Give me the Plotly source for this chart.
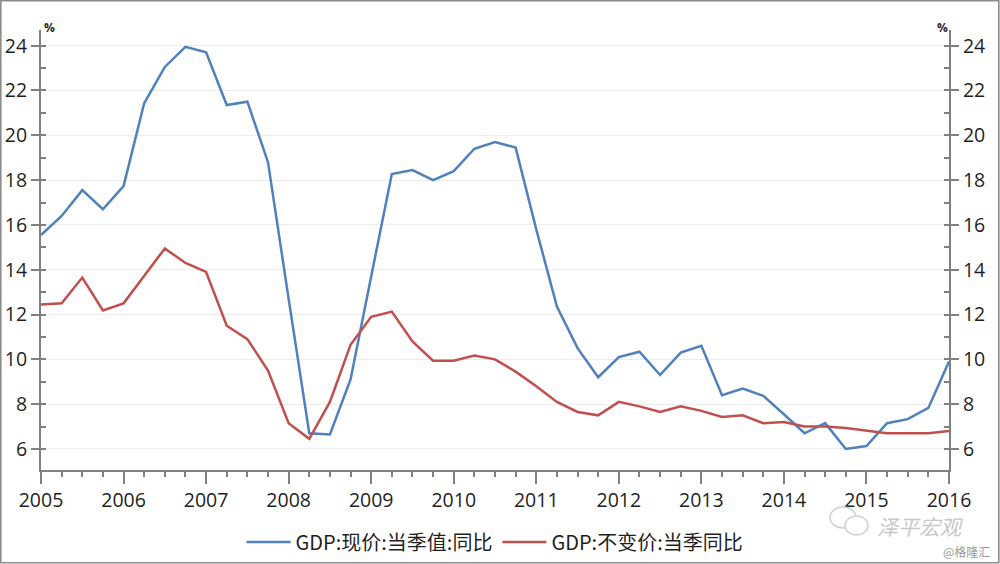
import plotly.graph_objects as go

# ---- data (quarterly points) ----
start_year = 2005
nominal_yoy = [15.55, 16.4, 17.55, 16.7, 17.73, 21.43, 23.05, 23.95, 23.7, 21.35,
               21.5, 18.8, 12.7, 6.7, 6.65, 9.1, 13.7, 18.27, 18.45, 18.0,
               18.4, 19.4, 19.7, 19.45, 15.8, 12.36, 10.5, 9.2, 10.1, 10.34,
               9.3, 10.3, 10.6, 8.4, 8.7, 8.37, 7.55, 6.7, 7.15, 6.0,
               6.13, 7.15, 7.33, 7.83, 9.9]
real_yoy = [12.45, 12.5, 13.65, 12.18, 12.5, 13.75, 14.95, 14.3, 13.9, 11.5,
            10.9, 9.5, 7.15, 6.45, 8.1, 10.65, 11.9, 12.13, 10.8, 9.94,
            9.94, 10.17, 10.0, 9.45, 8.8, 8.1, 7.65, 7.5, 8.1, 7.9,
            7.65, 7.9, 7.7, 7.43, 7.5, 7.15, 7.2, 7.0, 7.0, 6.93,
            6.8, 6.7, 6.7, 6.7, 6.8]
year_ticks = list(range(2005, 2017))
y_ticks = [6, 8, 10, 12, 14, 16, 18, 20, 22, 24]
series_names = ["GDP:现价:当季值:同比", "GDP:不变价:当季同比"]
series_colors = ["#4F81BD", "#C0504D"]

x_vals = [start_year + i * 0.25 for i in range(len(nominal_yoy))]

W, H = 1000, 564
ML, MR, MT, MB = 41, 51, 30, 94
PW, PH = W - ML - MR, H - MT - MB


def px(xp):
    return (xp - ML) / PW


def py(yp):
    return (H - MB - yp) / PH


AXIS_COLOR = "#808080"
TEXT_COLOR = "#1f1f1f"
FONT = "Open Sans, Noto Sans CJK SC, sans-serif"
Y_RANGE = [5.06, 24.7]

fig = go.Figure()
fig.add_trace(go.Scatter(x=x_vals, y=nominal_yoy, mode="lines", name=series_names[0],
                         line=dict(color=series_colors[0], width=2.5)))
fig.add_trace(go.Scatter(x=x_vals, y=real_yoy, mode="lines", name=series_names[1],
                         line=dict(color=series_colors[1], width=2.5)))
# invisible helper trace so the right axis renders
fig.add_trace(go.Scatter(x=x_vals, y=real_yoy, mode="lines", yaxis="y2", showlegend=False,
                         hoverinfo="skip", line=dict(color="rgba(0,0,0,0)", width=0)))

axis_common = dict(
    showline=True, linecolor=AXIS_COLOR, linewidth=2,
    ticks="outside", tickwidth=2, tickcolor=AXIS_COLOR,
    tickfont=dict(size=19.5, color=TEXT_COLOR, family=FONT),
    zeroline=False, automargin=False,
)

fig.update_layout(
    width=W, height=H,
    margin=dict(l=ML, r=MR, t=MT, b=MB, pad=0, autoexpand=False),
    paper_bgcolor="white", plot_bgcolor="white",
    font=dict(family=FONT, color=TEXT_COLOR),
    xaxis=dict(
        **axis_common,
        ticklen=12,
        range=[2005, 2016], tickmode="array", tickvals=year_ticks,
        ticktext=[str(y) for y in year_ticks],
        showgrid=False,
        minor=dict(dtick=0.25, tick0=2005, ticks="outside", ticklen=5,
                   tickwidth=2, tickcolor=AXIS_COLOR, showgrid=False),
    ),
    yaxis=dict(
        **axis_common,
        ticklen=8,
        range=Y_RANGE, tickmode="array", tickvals=y_ticks,
        showgrid=True, gridcolor="#ECECEC", gridwidth=1,
        minor=dict(dtick=1, tick0=5, ticks="inside", ticklen=5,
                   tickwidth=2, tickcolor=AXIS_COLOR, showgrid=False),
    ),
    yaxis2=dict(
        **axis_common,
        ticklen=8,
        overlaying="y", side="right", anchor="x",
        range=Y_RANGE, tickmode="array", tickvals=y_ticks,
        showgrid=False,
        minor=dict(dtick=1, tick0=5, ticks="inside", ticklen=5,
                   tickwidth=2, tickcolor=AXIS_COLOR, showgrid=False),
    ),
    legend=dict(
        orientation="h", x=px(495), xanchor="center", y=py(542), yanchor="middle",
        font=dict(size=20, color=TEXT_COLOR, family="Noto Sans CJK SC, sans-serif"),
        itemwidth=44, bgcolor="rgba(0,0,0,0)", traceorder="normal",
    ),
    showlegend=True,
)

ann_common = dict(xref="paper", yref="paper", showarrow=False,
                  xanchor="center", yanchor="middle")
annotations = [
    dict(text="<b>%</b>", x=px(49), y=py(28), font=dict(size=12, color=TEXT_COLOR), **ann_common),
    dict(text="<b>%</b>", x=px(942), y=py(28), font=dict(size=12, color=TEXT_COLOR), **ann_common),
    dict(text="<i>泽平宏观</i>", x=px(920), y=py(526),
         font=dict(size=21, color="#C8C8C8", family="Noto Sans CJK SC, sans-serif"), **ann_common),
    dict(text="@格隆汇", x=px(966), y=py(551),
         font=dict(size=12, color="#9A9A9A", family="Noto Sans CJK SC, sans-serif"), **ann_common),
]
fig.update_layout(annotations=annotations)

shapes = [
    # outer frame
    dict(type="rect", xref="paper", yref="paper",
         x0=px(0.8), x1=px(998.8), y0=py(562.8), y1=py(0.8),
         line=dict(color="#8C8C8C", width=1.6), fillcolor="rgba(0,0,0,0)", layer="above"),
    # wechat-like bubbles (watermark)
    dict(type="circle", xref="paper", yref="paper",
         x0=px(830), x1=px(856), y0=py(528), y1=py(507),
         line=dict(color="#D0D0D0", width=1.5)),
    dict(type="circle", xref="paper", yref="paper",
         x0=px(845), x1=px(868), y0=py(535), y1=py(516),
         line=dict(color="#D0D0D0", width=1.5), fillcolor="white"),
]
fig.update_layout(shapes=shapes)

fig.write_html("out.html", config={"displayModeBar": False},
               post_script="document.body.style.margin='0px';document.body.style.overflow='hidden';")
